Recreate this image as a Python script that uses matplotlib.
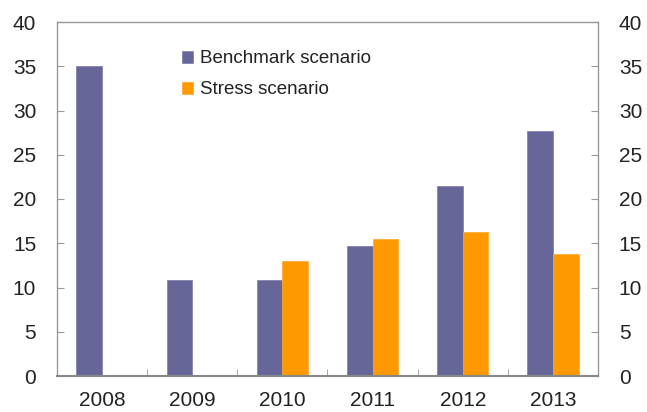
import matplotlib
matplotlib.use("Agg")
import matplotlib.pyplot as plt
import numpy as np

years = ["2008", "2009", "2010", "2011", "2012", "2013"]
benchmark = [35.0, 10.85, 10.85, 14.7, 21.5, 27.7]
stress = [np.nan, np.nan, 13.0, 15.5, 16.3, 13.8]

plt.rcParams["font.family"] = ["Liberation Sans", "DejaVu Sans"]

fig = plt.figure(figsize=(6.47, 4.12), dpi=100)
ax = fig.add_axes([57 / 647, 36 / 412, 541 / 647, 354 / 412])

x = np.arange(len(years))
w = 0.285
ax.bar(x - w / 2, benchmark, width=w, color="#666699", edgecolor="#7a7aa8", linewidth=0.5,
       label="Benchmark scenario")
ax.bar(x + w / 2, stress, width=w, color="#FF9900", edgecolor="#ffa826", linewidth=0.5,
       label="Stress scenario")

ax.set_xlim(-0.5, len(years) - 0.5)
ax.set_ylim(0, 40)
ax.set_yticks(range(0, 41, 5))

# category labels centred, tick marks on category boundaries
ax.set_xticks(x)
ax.set_xticklabels(years)
ax.set_xticks(np.arange(0.5, len(years) - 1, 1.0), minor=True)
ax.tick_params(axis="x", which="major", length=0, pad=11, labelsize=15, colors="#222222")
ax.tick_params(axis="x", which="minor", direction="in", length=5, color="#999999")

ax.tick_params(axis="y", direction="in", length=5, color="#999999", labelsize=15,
               labelcolor="#222222", pad=15, left=True, right=True,
               labelleft=True, labelright=True)

for name, sp in ax.spines.items():
    sp.set_color("#999999")
    sp.set_linewidth(1.0)
ax.spines["bottom"].set_color("#888888")
ax.spines["bottom"].set_linewidth(1.5)

leg = ax.legend(loc="upper left", bbox_to_anchor=(0.231, 0.92), frameon=False,
                borderpad=0, borderaxespad=0,
                fontsize=13.5, handlelength=0.6, handleheight=0.6, handletextpad=0.35,
                labelspacing=0.75, labelcolor="#222222")

fig.savefig("out.png", dpi=100)
